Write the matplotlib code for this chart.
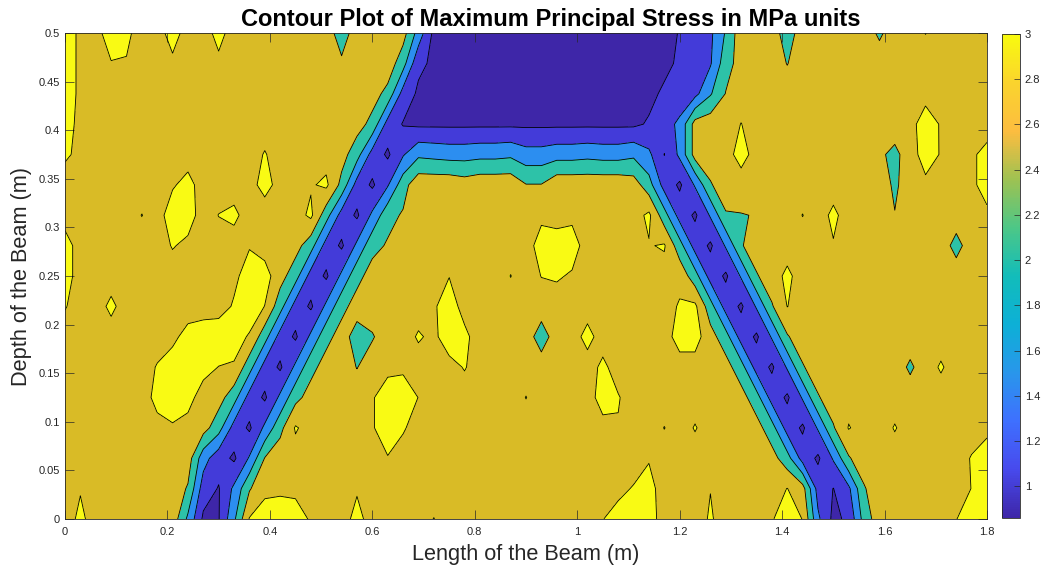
import numpy as np
import matplotlib
matplotlib.use('Agg')
import matplotlib.pyplot as plt
import matplotlib.cm as cm
from matplotlib.colors import LinearSegmentedColormap, Normalize
from matplotlib.ticker import FuncFormatter

plt.rcParams['font.family'] = ['Liberation Sans', 'DejaVu Sans']

# mesh nodes: 61 along the beam length, 17 through the depth
beam_length = np.linspace(0.0, 1.8, 61)
beam_depth = np.linspace(0.0, 0.5, 17)

# stress (MPa), one character per mesh node
stress_code = {
    'B': 0.88, 'C': 0.91, 'D': 0.92, 'E': 0.97, 'F': 0.99,
    'G': 1.02, 'H': 1.05, 'I': 1.08, 'J': 1.1, 'K': 1.2, 'L': 1.25,
    'M': 1.3, 'N': 1.35, 'O': 1.4, 'P': 1.45,
    'Q': 1.55, 'R': 1.6, 'S': 1.7, 'T': 1.8, 'U': 1.85, 'V': 1.9, 'W': 1.95,
    'X': 2.05, 'Y': 2.2, 'Z': 2.3, 'a': 2.35, 'b': 2.4, 'c': 2.45, 'd': 2.48,
    'e': 2.52, 'f': 2.55, 'g': 2.6, 'h': 2.7, 'i': 2.75, '.': 2.8,
    'j': 2.85, 'k': 2.9, 'l': 2.95, 'm': 2.97, 'n': 2.99,
    'o': 3.01, 'p': 3.03, 'q': 3.05, 'r': 3.1, 's': 3.15, 't': 3.2,
    'u': 3.25, 'v': 3.3,
}

# rows from the top of the beam (depth 0.5) down to depth 0
stress_rows = [
    "uk.vr..t..s.......Y...hT" + "B" * 16 + "GKOX...Y.....b..o....",
    "uk.mm..k..k.......g...YJD" + "B" * 15 + "ILPZh..d" + "." * 13,
    "uk" + "." * 18 + "haMD" + "B" * 15 + "IKNWe" + "." * 17,
    "sk" + "." * 17 + "haME" + "C" * 15 + "HMRh..o" + "." * 11 + "vl..h",
    "rj" + "." * 11 + "p....hYMDP" + "VUTTUUVSSTTUTTV" + "RFRh..t" + "." * 8 + "ga.tm.kt",
    "h......ls....t..lraMDPZ" + "jjjijjjeejjjjji" + "YMDQc.i" + "." * 9 + "b.k..kt",
    ".....o.ut.or.h..rYMDRaf" + "........k.k....rYMDQcde..o.r...e.....k",
    "t......pk...m..hYMDRaf" + "." * 9 + "tut....mqYMDQc.....m" + "." * 7 + "Z..",
    "t" + "." * 10 + "ktthYMDRah....n...o.oql......jYMDQc.r" + "." * 13,
    "p..r" + "." * 7 + "qvnYMDRah....ltj" + "." * 13 + "qrYMDQco" + "." * 13,
    "." * 7 + "ksuvtlYMDRahZc..qkur....Y..s.....tthYMDQc" + "." * 13,
    "." * 6 + "ptusnlYMDRah.d.jk..jp" + "." * 8 + "r" + "." * 7 + "hYMDQc" + "." * 6 + "b.q...",
    "." * 5 + "jrus.hYMDRah...lvvn" + "." * 6 + "o....tp" + "." * 7 + "hYMDQc" + "." * 11,
    "." * 6 + "kljhYMDRaq....lvq" + "." * 12 + "jm..o.p...hYMDQcp..p.....k",
    "." * 8 + "iSKDQe" + "." * 7 + "m" + "." * 16 + "m" + "." * 7 + "hYMDQc" + "." * 7 + "pt",
    ".m......cLERckkk...l" + "." * 16 + "kps...n....ohMFOcj.....ou",
    ".r......VCEVptvtl..s....o" + "." * 10 + "nstt...q...mtnRBJY.....ntv",
]
for row in stress_rows:
    assert len(row) == 61, (len(row), row)

stress = np.array([[stress_code[ch] for ch in row] for row in stress_rows[::-1]])

levels = [0.5, 1.0, 1.5, 2.0, 2.5, 3.0, 4.0]
band_colors = ['#3e26a8', '#433bd9', '#2c8ef0', '#2dc2a8', '#d9bb26', '#f9fa14']

parula = LinearSegmentedColormap.from_list('parula', [
    (0.2422, 0.1504, 0.6603), (0.2810, 0.2900, 0.9300), (0.2440, 0.4400, 0.9990),
    (0.1600, 0.5900, 0.9200), (0.0500, 0.6900, 0.8400), (0.0700, 0.7400, 0.7300),
    (0.3000, 0.7800, 0.5300), (0.6200, 0.7600, 0.3200), (0.9900, 0.7400, 0.2500),
    (0.9800, 0.8300, 0.1800), (0.9763, 0.9831, 0.0538)])

fig = plt.figure(figsize=(10.43, 5.73), dpi=100)
ax = fig.add_axes([65/1043, 54/573, 922/1043, 486/573])
cax = fig.add_axes([1002/1043, 55/573, 18/1043, 484/573])

ax.contourf(beam_length, beam_depth, stress, levels=levels, colors=band_colors)
ax.contour(beam_length, beam_depth, stress, levels=levels[1:-1], colors='k', linewidths=0.6)

ax.set_xlim(0, 1.8)
ax.set_ylim(0, 0.5)
ax.set_xticks(np.arange(0, 1.81, 0.2))
ax.set_yticks(np.arange(0, 0.501, 0.05))
fmt = FuncFormatter(lambda v, p: '%g' % round(v, 3))
ax.xaxis.set_major_formatter(fmt)
ax.yaxis.set_major_formatter(fmt)
ax.tick_params(direction='in', top=True, right=True, length=6.5, width=0.5,
               labelsize=8, colors='#262626')
ax.tick_params(axis='x', pad=6)
for s in ax.spines.values():
    s.set_linewidth(0.6)
    s.set_color('#262626')

ax.set_title('Contour Plot of Maximum Principal Stress in MPa units',
             fontsize=17, fontweight='bold', pad=5, x=0.527)
ax.set_xlabel('Length of the Beam (m)', fontsize=15.7, color='#262626', labelpad=5)
ax.set_ylabel('Depth of the Beam (m)', fontsize=15.7, color='#262626', labelpad=5)

sm = cm.ScalarMappable(norm=Normalize(0.86, 3.0), cmap=parula)
cb = fig.colorbar(sm, cax=cax, ticks=[1, 1.2, 1.4, 1.6, 1.8, 2, 2.2, 2.4, 2.6, 2.8, 3])
cb.ax.yaxis.set_major_formatter(fmt)
cb.ax.tick_params(direction='in', length=4, width=0.5, labelsize=8, colors='#262626')
cb.outline.set_linewidth(0.6)
cb.outline.set_edgecolor('#262626')

plt.savefig('out.png', dpi=100)
